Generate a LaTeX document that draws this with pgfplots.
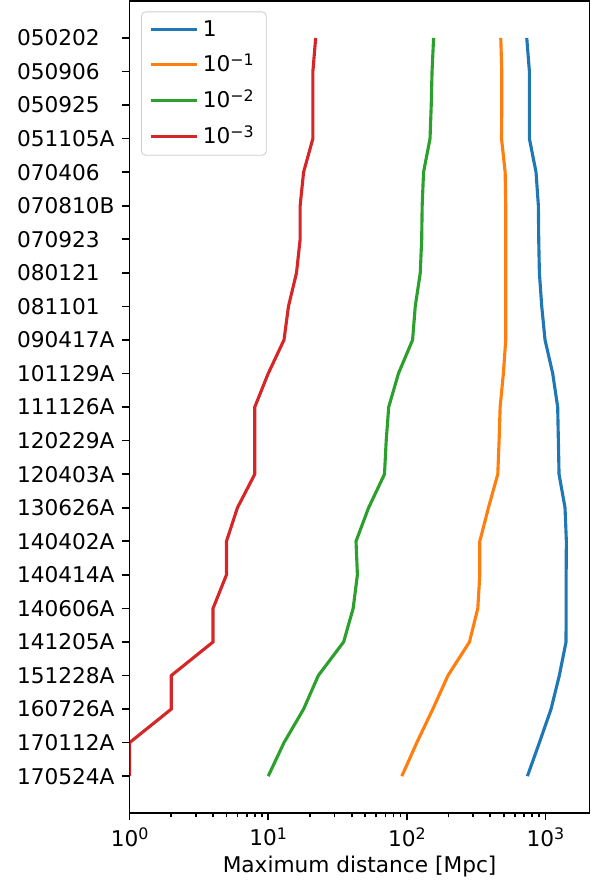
\documentclass[border=0pt]{standalone}
\usepackage{fontspec}
\setmainfont{DejaVu Sans}
\usepackage{pgfplots}
\usepackage{pgfplotstable}
\pgfplotsset{compat=1.18}

\definecolor{c0}{HTML}{1F77B4}
\definecolor{c1}{HTML}{FF7F0E}
\definecolor{c2}{HTML}{2CA02C}
\definecolor{c3}{HTML}{D62728}

\newcommand{\fs}{\fontsize{10.4}{12.5}\selectfont}
\newcommand{\sexp}[1]{\raisebox{0.55ex}{\fontsize{7.6}{9}\selectfont #1}}

% maximum distance per GRB, one column per level
\pgfplotstableread{
idx d0 d1 d2 d3
0 733 476 156 22
1 766 484 152 21
2 766 484 150 21
3 766 482 147 21
4 855 512 132 18
5 889 517 129 17
6 894 517 128 17
7 904 517 125 16
8 940 517 115 14
9 993 517 110 13
10 1128 497 87 10
11 1225 471 74 8
12 1239 463 71 8
13 1253 453 69 8
14 1384 388 53 6
15 1415 336 43 5
16 1410 336 44 5
17 1410 325 41 4
18 1407 283 35 4
19 1259 198 23 2
20 1097 154 18 2
21 904 118 13 1
22 741 92 10 1
}\data

\begin{document}
\begin{tikzpicture}
\begin{axis}[
    scale only axis,
    width=220.8pt, height=389.8pt,
    xmode=log,
    xmin=1, xmax=2080,
    ymin=-1.1, ymax=23.1,
    y dir=reverse,
    axis line style={line width=0.8pt},
    tick style={line width=0.8pt, black},
    tick align=outside,
    major tick length=3.5pt,
    minor tick length=2pt,
    xtick pos=bottom, ytick pos=left,
    xtick={1,10,100,1000},
    xticklabels={10\sexp{0},10\sexp{1},10\sexp{2},10\sexp{3}},
    ytick={0,...,22},
    yticklabels={050202,050906,050925,051105A,070406,070810B,070923,080121,081101,090417A,101129A,111126A,120229A,120403A,130626A,140402A,140414A,140606A,141205A,151228A,160726A,170112A,170524A},
    yticklabel style={text width=47pt, align=left, font=\fs},
    xticklabel style={font=\fs},
    xlabel={Maximum distance [Mpc]},
    xlabel style={font=\fs, yshift=2pt},
    legend cell align=left,
    legend style={at={(0,1)}, anchor=north west, xshift=5.5pt, yshift=-5pt,
        draw=black!20, rounded corners=2pt, fill=white,
        font=\fs, row sep=3pt,
        inner xsep=4pt, inner ysep=2pt,
        /tikz/every even column/.append style={column sep=5.5pt}},
    legend image code/.code={\draw[#1] (0pt,0pt) -- (22pt,0pt);},
]
\addplot[c0, line width=1.5pt] table[x=d0, y=idx] {\data};
\addlegendentry{1}
\addplot[c1, line width=1.5pt] table[x=d1, y=idx] {\data};
\addlegendentry{10\sexp{−1}}
\addplot[c2, line width=1.5pt] table[x=d2, y=idx] {\data};
\addlegendentry{10\sexp{−2}}
\addplot[c3, line width=1.5pt] table[x=d3, y=idx] {\data};
\addlegendentry{10\sexp{−3}}
\end{axis}
\useasboundingbox (current axis.south west) ++(-62.2pt,-35pt) rectangle ([xshift=2.4pt, yshift=0.5pt]current axis.north east);
\end{tikzpicture}
\end{document}
